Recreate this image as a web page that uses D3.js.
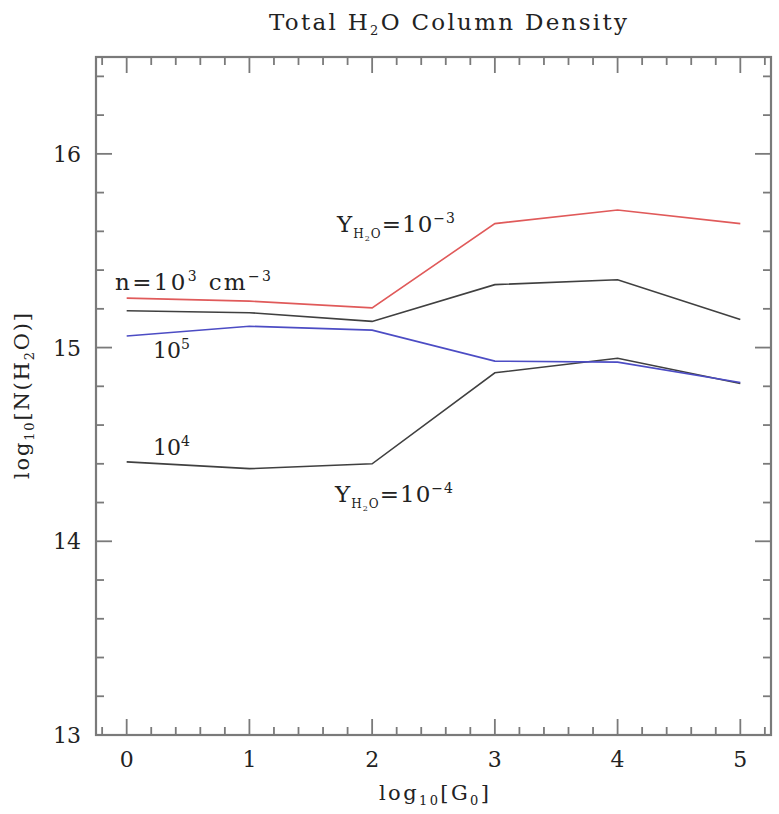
<!DOCTYPE html>
<html>
<head>
<meta charset="utf-8">
<script src="https://cdn.jsdelivr.net/npm/d3@7"></script>
<style>
  html, body { margin: 0; padding: 0; background: #fff; }
  svg { display: block; }
  text { font-family: "DejaVu Serif", "Liberation Serif", serif; fill: #222; }
</style>
</head>
<body>
<svg id="chart" width="779" height="814"></svg>
<script>
// ---- data ----
const logG0 = [0, 1, 2, 3, 4, 5];
const seriesRed = [15.255, 15.24, 15.205, 15.64, 15.71, 15.64];
const seriesBlackUpper = [15.19, 15.18, 15.135, 15.325, 15.35, 15.145];
const seriesBlue = [15.06, 15.11, 15.09, 14.93, 14.925, 14.82];
const seriesBlackLower = [14.41, 14.375, 14.40, 14.87, 14.945, 14.815];
const xTickLabels = [0, 1, 2, 3, 4, 5];
const yTickLabels = [13, 14, 15, 16];

const svg = d3.select("#chart");
const pLeft = 96, pRight = 771, pTop = 57, pBottom = 735;

const x = d3.scaleLinear().domain([-0.25, 5.25]).range([pLeft, pRight]);
const y = d3.scaleLinear().domain([13, 16.5]).range([pBottom, pTop]);

const frameColor = "#7a7a7a";
const majorLen = 16, minorLen = 8;

// frame
svg.append("rect")
  .attr("x", pLeft).attr("y", pTop)
  .attr("width", pRight - pLeft).attr("height", pBottom - pTop)
  .attr("fill", "none").attr("stroke", frameColor).attr("stroke-width", 2.2);

// ticks
const xMinor = d3.range(-0.2, 5.21, 0.2).map(v => Math.round(v * 10) / 10);
const yMinor = d3.range(13.2, 16.41, 0.2).map(v => Math.round(v * 10) / 10);
const isMajor = v => Math.abs(v - Math.round(v)) < 1e-6;

const tickG = svg.append("g").attr("stroke", frameColor).attr("stroke-width", 1.8);
xMinor.forEach(v => {
  const len = isMajor(v) ? majorLen : minorLen;
  tickG.append("line").attr("x1", x(v)).attr("x2", x(v)).attr("y1", pBottom).attr("y2", pBottom - len);
  tickG.append("line").attr("x1", x(v)).attr("x2", x(v)).attr("y1", pTop).attr("y2", pTop + len);
});
yMinor.forEach(v => {
  const len = isMajor(v) ? majorLen : minorLen;
  tickG.append("line").attr("y1", y(v)).attr("y2", y(v)).attr("x1", pLeft).attr("x2", pLeft + len);
  tickG.append("line").attr("y1", y(v)).attr("y2", y(v)).attr("x1", pRight).attr("x2", pRight - len);
});

// tick labels
svg.append("g").selectAll("text").data(xTickLabels).join("text")
  .attr("x", d => x(d)).attr("y", 767)
  .attr("text-anchor", "middle").attr("font-size", 22)
  .text(d => d);
svg.append("g").selectAll("text").data(yTickLabels).join("text")
  .attr("x", 81).attr("y", d => y(d) + 8)
  .attr("text-anchor", "end").attr("font-size", 22)
  .text(d => d);

// lines
const line = d3.line().x((d, i) => x(logG0[i])).y(d => y(d));
const series = [
  { vals: seriesBlackUpper, color: "#404040" },
  { vals: seriesBlackLower, color: "#404040" },
  { vals: seriesBlue, color: "#4c4cc4" },
  { vals: seriesRed, color: "#e05a5a" }
];
svg.append("g").selectAll("path").data(series).join("path")
  .attr("d", d => line(d.vals))
  .attr("fill", "none")
  .attr("stroke", d => d.color)
  .attr("stroke-width", 1.6);

// title
const title = svg.append("text").attr("x", 448).attr("y", 30)
  .attr("text-anchor", "middle").attr("font-size", 23)
  .attr("textLength", 358).attr("lengthAdjust", "spacing");
title.append("tspan").text("Total H");
title.append("tspan").attr("font-size", 13).attr("dy", 5).text("2");
title.append("tspan").attr("dy", -5).text("O Column Density");

// axis titles
const xl = svg.append("text").attr("x", 434).attr("y", 800)
  .attr("text-anchor", "middle").attr("font-size", 21)
  .attr("textLength", 110).attr("lengthAdjust", "spacing");
xl.append("tspan").text("log");
xl.append("tspan").attr("font-size", 13).attr("dy", 5).text("10");
xl.append("tspan").attr("dy", -5).text("[G");
xl.append("tspan").attr("font-size", 13).attr("dy", 5).text("0");
xl.append("tspan").attr("dy", -5).text("]");

const yl = svg.append("text").attr("transform", "translate(29,396) rotate(-90)")
  .attr("text-anchor", "middle").attr("font-size", 21)
  .attr("textLength", 166).attr("lengthAdjust", "spacing");
yl.append("tspan").text("log");
yl.append("tspan").attr("font-size", 13).attr("dy", 5).text("10");
yl.append("tspan").attr("dy", -5).text("[N(H");
yl.append("tspan").attr("font-size", 13).attr("dy", 5).text("2");
yl.append("tspan").attr("dy", -5).text("O)]");

// annotations
function yLabel(xp, yp, exp) {
  const t = svg.append("text").attr("x", xp).attr("y", yp).attr("font-size", 23)
    .attr("textLength", 118).attr("lengthAdjust", "spacing");
  t.append("tspan").text("Y");
  t.append("tspan").attr("font-size", 12).attr("dy", 6).text("H");
  t.append("tspan").attr("font-size", 8).attr("dy", 3).text("2");
  t.append("tspan").attr("font-size", 12).attr("dy", -3).text("O");
  t.append("tspan").attr("dy", -6).text("=10");
  t.append("tspan").attr("font-size", 14).attr("dy", -9).text(exp);
}
yLabel(337, 232, "−3");
yLabel(335, 502, "−4");

const nl = svg.append("text").attr("x", 115).attr("y", 290).attr("font-size", 23)
  .attr("textLength", 156).attr("lengthAdjust", "spacing");
nl.append("tspan").text("n=10");
nl.append("tspan").attr("font-size", 14).attr("dy", -9).text("3");
nl.append("tspan").attr("dy", 9).text(" cm");
nl.append("tspan").attr("font-size", 14).attr("dy", -9).text("−3");

const l5 = svg.append("text").attr("x", 153).attr("y", 358).attr("font-size", 22);
l5.append("tspan").text("10");
l5.append("tspan").attr("font-size", 14).attr("dy", -9).text("5");

const l4 = svg.append("text").attr("x", 153).attr("y", 455).attr("font-size", 22);
l4.append("tspan").text("10");
l4.append("tspan").attr("font-size", 14).attr("dy", -9).text("4");
</script>
</body>
</html>
